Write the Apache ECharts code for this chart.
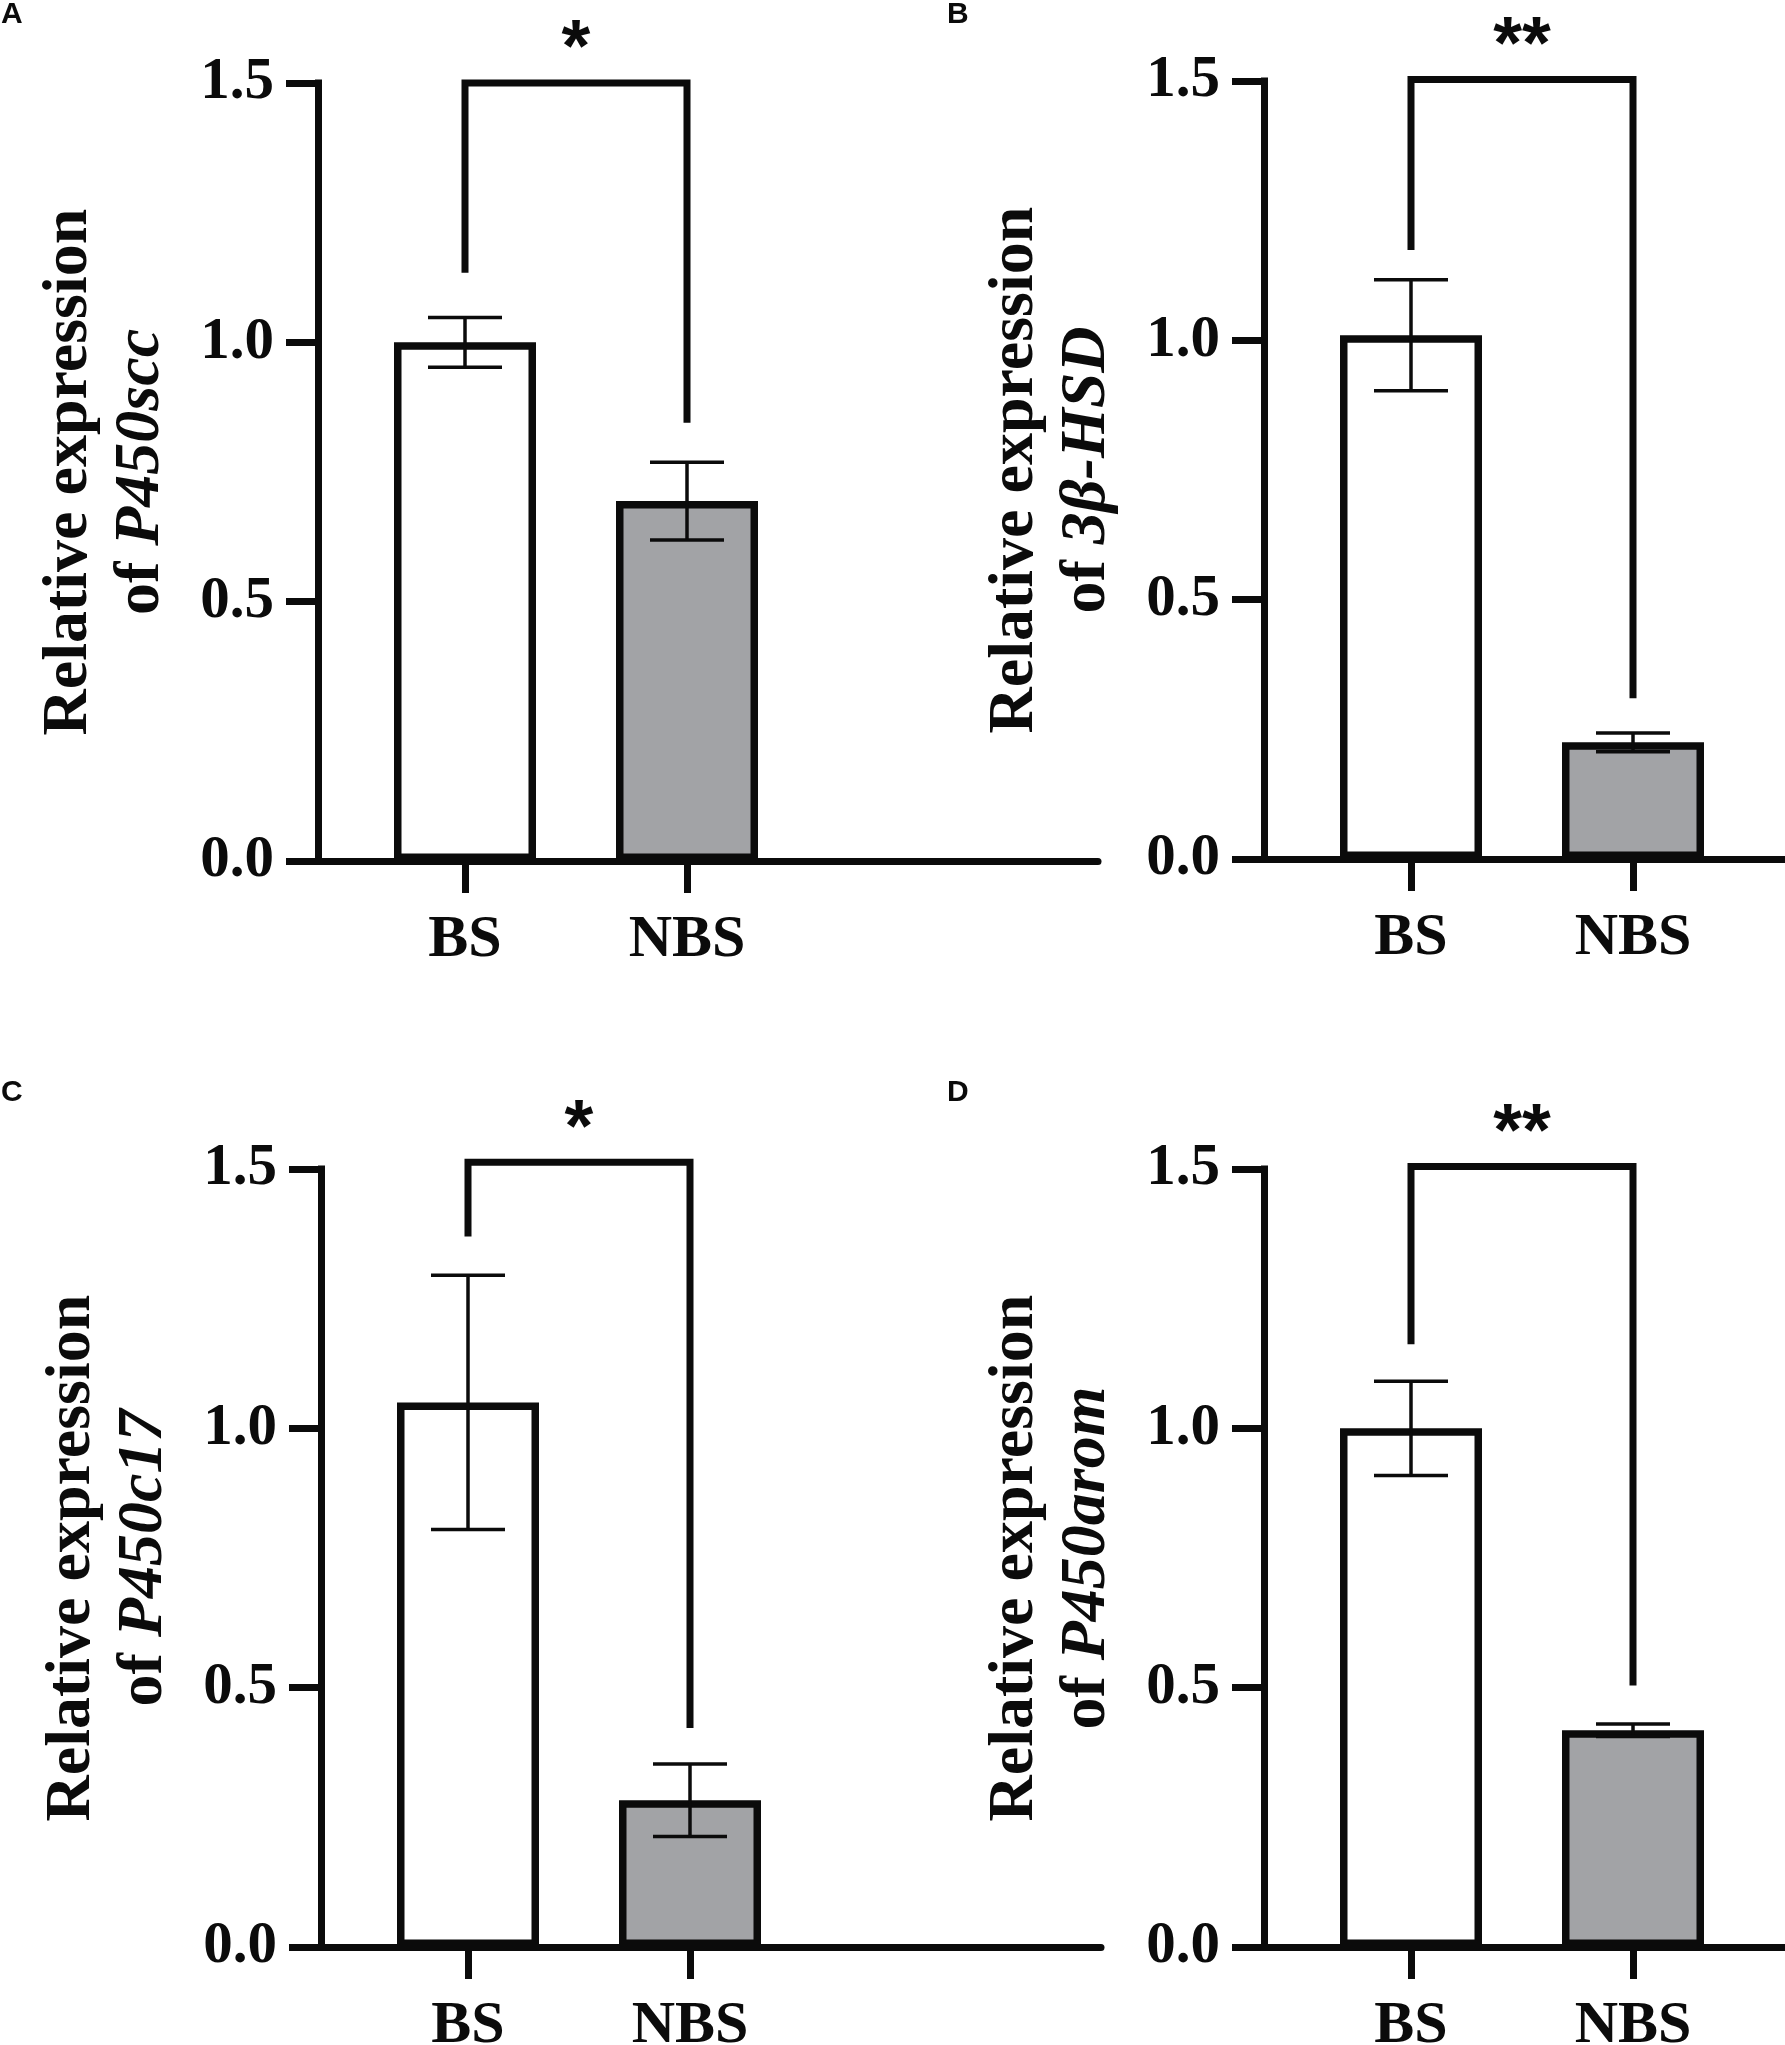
<!DOCTYPE html>
<html>
<head>
<meta charset="utf-8">
<script src="https://cdn.jsdelivr.net/npm/echarts@6/dist/echarts.min.js"></script>
<style>
  html, body { margin: 0; padding: 0; background: #fff; }
  #main { width: 1785px; height: 2045px; }
</style>
</head>
<body>
<div id="main"></div>
<script>
// values (A-D)
var categories = ['BS', 'NBS'];
var panelLetters = ['A', 'B', 'C', 'D'];
var geneNames = ['P450scc', '3β-HSD', 'P450c17', 'P450arom'];
var bsMean = [1.00, 1.01, 1.05, 1.00];
var bsErr = [0.048, 0.107, 0.245, 0.091];
var nbsMean = [0.694, 0.225, 0.283, 0.418];
var nbsErr = [0.075, 0.018, 0.070, 0.012];
// significance brackets: top line, end over BS, end over NBS
var bracketTop = [1.50, 1.503, 1.513, 1.505];
var bracketLeft = [1.134, 1.174, 1.37, 1.162];
var bracketRight = [0.845, 0.31, 0.422, 0.504];
var sigMarks = ['*', '**', '*', '**'];
var yTicks = [0, 0.5, 1.0, 1.5];

var ink = '#0b0b0b';
var grey = '#a2a3a6';
var serif = '"Liberation Serif", "Times New Roman", serif';
var sans = '"Liberation Sans", Arial, sans-serif';

// layout of each panel: x of the y axis, top of the plot
var axisX = [318, 1264, 321, 1264];
var plotTop = [83, 81, 1169, 1169];
var plotH = 778;
var catStart = 36;   // category bands start this far right of the y axis
var bandW = 222;
var baseLen = 780;   // length of the x axis line
var letterPos = [[1, 0], [947, 0], [1, 1078], [947, 1078]];

var chart = echarts.init(document.getElementById('main'));

function errItem(params, api) {
  var x = api.value(0), m = api.value(1), e = api.value(2);
  var hi = api.coord([x, m + e]);
  var lo = api.coord([x, m - e]);
  var cw = 37;
  function st() { return { stroke: ink, lineWidth: 3.5 }; }
  return {
    type: 'group',
    children: [
      { type: 'line', shape: { x1: hi[0], y1: hi[1], x2: lo[0], y2: lo[1] }, style: st() },
      { type: 'line', shape: { x1: hi[0] - cw, y1: hi[1], x2: hi[0] + cw, y2: hi[1] }, style: st() },
      { type: 'line', shape: { x1: lo[0] - cw, y1: lo[1], x2: lo[0] + cw, y2: lo[1] }, style: st() }
    ]
  };
}

function bracketItem(p) {
  return function (params, api) {
    var l = api.coord([api.value(0), api.value(2)]);
    var r = api.coord([api.value(1), api.value(3)]);
    var t0 = api.coord([api.value(0), api.value(4)]);
    var t1 = api.coord([api.value(1), api.value(4)]);
    return {
      type: 'group',
      children: [
        {
          type: 'polyline',
          shape: { points: [l, t0, t1, r] },
          style: { stroke: ink, lineWidth: 7, fill: null, lineJoin: 'miter' }
        },
        {
          type: 'text',
          style: {
            text: sigMarks[p], x: (t0[0] + t1[0]) / 2, y: t0[1] + 5,
            align: 'center', verticalAlign: 'bottom',
            fill: ink, font: 'bold 74px ' + sans
          }
        }
      ]
    };
  };
}

var titles = [], grids = [], xAxes = [], yAxes = [], series = [];

for (var p = 0; p < 4; p++) {
  titles.push({
    text: panelLetters[p], left: letterPos[p][0], top: letterPos[p][1], padding: 0,
    textStyle: { fontFamily: sans, fontWeight: 'bold', fontSize: 30, color: ink }
  });

  // grid for the bars
  grids.push({
    left: axisX[p] + catStart, top: plotTop[p], width: bandW * 2, height: plotH,
    outerBoundsMode: 'none', containLabel: false
  });
  // grid carrying the long x axis line
  grids.push({
    left: axisX[p], top: plotTop[p], width: Math.min(baseLen, 1785 - axisX[p]), height: plotH,
    outerBoundsMode: 'none', containLabel: false
  });

  xAxes.push({
    type: 'category', gridIndex: 2 * p, data: categories,
    axisLine: { show: false },
    axisTick: { show: true, alignWithLabel: true, length: 32, lineStyle: { color: ink, width: 7 } },
    axisLabel: { color: ink, fontFamily: serif, fontWeight: 'bold', fontSize: 60, margin: 49 },
    splitLine: { show: false }
  });
  xAxes.push({
    type: 'value', gridIndex: 2 * p + 1, min: 0, max: 1,
    axisLine: { show: true, onZero: false, lineStyle: { color: ink, width: 7 } },
    axisTick: { show: false }, axisLabel: { show: false }, splitLine: { show: false }
  });

  yAxes.push({
    type: 'value', gridIndex: 2 * p, offset: catStart,
    min: yTicks[0], max: yTicks[yTicks.length - 1], interval: yTicks[1] - yTicks[0],
    axisLine: { show: true, lineStyle: { color: ink, width: 7, cap: 'square' } },
    axisTick: { show: true, length: 32, lineStyle: { color: ink, width: 7 } },
    axisLabel: {
      color: ink, fontFamily: serif, fontWeight: 'bold', fontSize: 59, margin: 44,
      formatter: function (v) { return v.toFixed(1); }
    },
    splitLine: { show: false },
    name: '{n|Relative expression}\n{n|of }{g|' + geneNames[p] + '}',
    nameLocation: 'middle', nameRotate: 90, nameGap: 141,
    nameTextStyle: {
      rich: {
        n: { fontFamily: serif, fontWeight: 'bold', fontSize: 64, lineHeight: 72, color: ink },
        g: { fontFamily: serif, fontWeight: 'bold', fontStyle: 'italic', fontSize: 64, lineHeight: 72, color: ink }
      }
    }
  });
  yAxes.push({
    type: 'value', gridIndex: 2 * p + 1, min: 0, max: 1.5, show: false
  });

  series.push({
    type: 'bar', xAxisIndex: 2 * p, yAxisIndex: 2 * p,
    barWidth: 142,
    itemStyle: { borderColor: ink, borderWidth: 7.5 },
    data: [
      { value: bsMean[p], itemStyle: { color: '#ffffff' } },
      { value: nbsMean[p], itemStyle: { color: grey } }
    ],
    animation: false, z: 2
  });
  series.push({
    type: 'custom', xAxisIndex: 2 * p, yAxisIndex: 2 * p,
    renderItem: errItem,
    encode: { x: 0, y: 1 },
    data: [[0, bsMean[p], bsErr[p]], [1, nbsMean[p], nbsErr[p]]],
    animation: false, z: 3
  });
  series.push({
    type: 'custom', xAxisIndex: 2 * p, yAxisIndex: 2 * p,
    renderItem: bracketItem(p),
    encode: { x: 0, y: 4 },
    clip: false,
    data: [[0, 1, bracketLeft[p], bracketRight[p], bracketTop[p]]],
    animation: false, z: 3
  });
}

chart.setOption({
  backgroundColor: '#ffffff',
  animation: false,
  title: titles,
  grid: grids,
  xAxis: xAxes,
  yAxis: yAxes,
  series: series
});
</script>
</body>
</html>
